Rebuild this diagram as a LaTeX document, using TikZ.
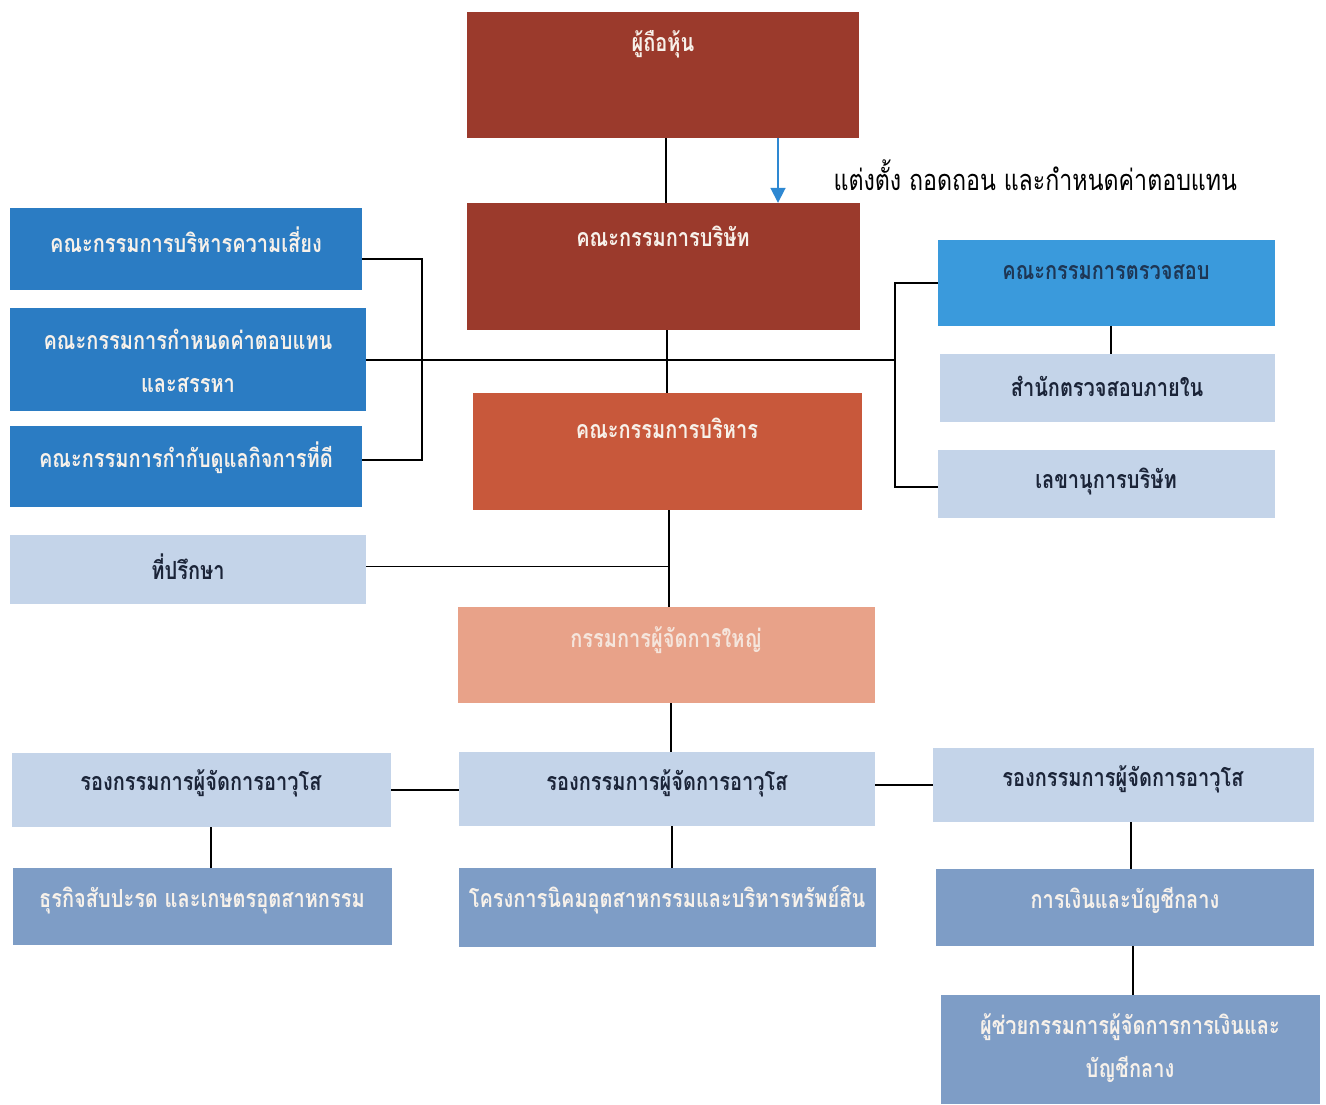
\documentclass[tikz,border=0pt]{standalone}
\usepackage{fontspec}
\newfontfamily\thai[Script=Thai, FakeStretch=0.8]{Loma}
\usetikzlibrary{fit,arrows.meta}
\definecolor{cRedDark}{HTML}{9B3A2C}
\definecolor{cRedMid}{HTML}{C8583B}
\definecolor{cSalmon}{HTML}{E8A289}
\definecolor{cBlue}{HTML}{2B7CC3}
\definecolor{cBlueLt}{HTML}{3A9ADC}
\definecolor{cPale}{HTML}{C4D4E9}
\definecolor{cSteel}{HTML}{7E9DC6}
\definecolor{cTxtLt}{HTML}{F7F1EA}
\definecolor{cTxtDk}{HTML}{1B2438}
\definecolor{cArrow}{HTML}{2E88D2}
\begin{document}
\begin{tikzpicture}[x=1pt,y=-1pt,
  bx/.style={inner sep=0pt, draw=none},
  ln/.style={line width=1.8pt, black},
  arr/.style={line width=1.8pt, cArrow, -{Triangle[length=15pt,width=15pt]}},
  tl/.style={font=\thai\bfseries\fontsize{25}{43}\selectfont, text=cTxtLt, align=center},
  td/.style={font=\thai\bfseries\fontsize{25}{43}\selectfont, text=cTxtDk, align=center},
  lab/.style={font=\thai\fontsize{29}{34}\selectfont, text=black}]
\path[use as bounding box, fill=white] (0,0) rectangle (1326,1104);
% boxes
\node[bx, fill=cRedDark, fit={(467,12)(859,138)}] (sh) {};
\node[bx, fill=cRedDark, fit={(467,203)(860,330)}] (board) {};
\node[bx, fill=cRedMid, fit={(473,393)(862,510)}] (exec) {};
\node[bx, fill=cSalmon, fit={(458,607)(875,703)}] (ceo) {};
\node[bx, fill=cBlue, fit={(10,208)(362,290)}] (risk) {};
\node[bx, fill=cBlue, fit={(10,308)(366,411)}] (rem) {};
\node[bx, fill=cBlue, fit={(10,426)(362,507)}] (gov) {};
\node[bx, fill=cPale, fit={(10,535)(366,604)}] (adv) {};
\node[bx, fill=cBlueLt, fit={(938,240)(1275,326)}] (audit) {};
\node[bx, fill=cPale, fit={(940,354)(1275,422)}] (ia) {};
\node[bx, fill=cPale, fit={(938,450)(1275,518)}] (sec) {};
\node[bx, fill=cPale, fit={(12,753)(391,827)}] (vpL) {};
\node[bx, fill=cPale, fit={(459,752)(875,826)}] (vpM) {};
\node[bx, fill=cPale, fit={(933,748)(1314,822)}] (vpR) {};
\node[bx, fill=cSteel, fit={(13,868)(392,945)}] (bizL) {};
\node[bx, fill=cSteel, fit={(459,868)(876,947)}] (bizM) {};
\node[bx, fill=cSteel, fit={(936,869)(1314,946)}] (bizR) {};
\node[bx, fill=cSteel, fit={(941,995)(1320,1104)}] (asst) {};
% texts
\node[tl] (tsh) at (663,44) {ผู้ถือหุ้น};
\node[tl] (tboard) at (663,236) {คณะกรรมการบริษัท};
\node[tl] (texec) at (667,428) {คณะกรรมการบริหาร};
\node[tl, text=cTxtLt!85!cSalmon] (tceo) at (666,640) {กรรมการผู้จัดการใหญ่};
\node[tl] (trisk) at (186,240) {คณะกรรมการบริหารความเสี่ยง};
\node[tl] (trem) at (188,361) {คณะกรรมการกำหนดค่าตอบแทน\\และสรรหา};
\node[tl] (tgov) at (186,458) {คณะกรรมการกำกับดูแลกิจการที่ดี};
\node[td] (tadv) at (188,567) {ที่ปรึกษา};
\node[td, text=cTxtDk!80!cBlue] (taudit) at (1106,272) {คณะกรรมการตรวจสอบ};
\node[td] (tia) at (1107,386) {สำนักตรวจสอบภายใน};
\node[td] (tsec) at (1106,482) {เลขานุการบริษัท};
\node[td] (tvpL) at (201,783) {รองกรรมการผู้จัดการอาวุโส};
\node[td] (tvpM) at (667,783) {รองกรรมการผู้จัดการอาวุโส};
\node[td] (tvpR) at (1123,779) {รองกรรมการผู้จัดการอาวุโส};
\node[tl] (tbizL) at (202,900) {ธุรกิจสับปะรด และเกษตรอุตสาหกรรม};
\node[tl] (tbizM) at (667,900) {โครงการนิคมอุตสาหกรรมและบริหารทรัพย์สิน};
\node[tl] (tbizR) at (1125,900) {การเงินและบัญชีกลาง};
\node[tl] (tasst) at (1130,1048) {ผู้ช่วยกรรมการผู้จัดการการเงินและ\\บัญชีกลาง};
\node[lab, anchor=west] (tlab) at (830,175) {แต่งตั้ง ถอดถอน และกำหนดค่าตอบแทน};
% coordinates for brackets
\coordinate (lbT) at (422,259);
\coordinate (lbB) at (422,460);
\coordinate (rbT) at (895,283);
\coordinate (rbM) at (895,360);
\coordinate (rbB) at (895,487);
% connectors
\draw[ln] ([xshift=3pt]sh.south) -- ([xshift=3pt]sh.south |- board.north);
\draw[arr] ([xshift=115pt]sh.south) -- ([xshift=115pt]sh.south |- board.north);
\draw[ln] ([xshift=3.5pt]board.south) -- ([xshift=3.5pt]board.south |- exec.north);
\draw[ln] (risk.east |- lbT) -- (lbT) -- (lbB) -- (gov.east |- lbB);
\draw[ln] (rem.east |- rbM) -- (rbM);
\draw[ln] (audit.west |- rbT) -- (rbT) -- (rbB) -- (sec.west |- rbB);
\draw[ln] ([xshift=4.5pt]audit.south) -- ([xshift=4.5pt]audit.south |- ia.north);
\draw[ln] ([xshift=1.5pt]exec.south) -- ([xshift=1.5pt]exec.south |- ceo.north);
\draw[ln] ([yshift=3pt]adv.east) -- ([xshift=1.5pt,yshift=3pt]adv.east -| exec.south);
\draw[ln] ([xshift=4.5pt]ceo.south) -- ([xshift=4.5pt]ceo.south |- vpM.north);
\draw[ln] (vpL.east) -- (vpL.east -| vpM.west);
\draw[ln] (vpR.west -| vpM.east) -- (vpR.west);
\draw[ln] ([xshift=9.5pt]vpL.south) -- ([xshift=9.5pt]vpL.south |- bizL.north);
\draw[ln] ([xshift=5pt]vpM.south) -- ([xshift=5pt]vpM.south |- bizM.north);
\draw[ln] ([xshift=7.5pt]vpR.south) -- ([xshift=7.5pt]vpR.south |- bizR.north);
\draw[ln] ([xshift=8pt]bizR.south) -- ([xshift=8pt]bizR.south |- asst.north);
\end{tikzpicture}
\end{document}
